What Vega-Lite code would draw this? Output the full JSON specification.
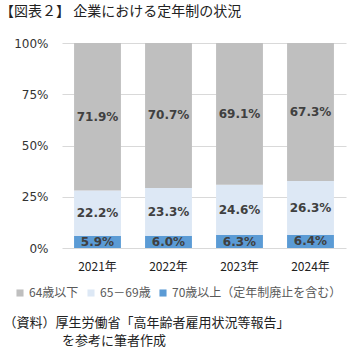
{
  "$schema": "https://vega.github.io/schema/vega-lite/v6.json",
  "autosize": "none",
  "width": 284,
  "height": 205,
  "padding": {"left": 62, "top": 43, "right": 11, "bottom": 109},
  "background": "white",
  "config": {
    "view": {"stroke": null},
    "font": "Noto Sans CJK JP"
  },
  "title": {
    "text": "【図表２】 企業における定年制の状況",
    "anchor": "start",
    "dx": -3,
    "offset": 18,
    "fontSize": 14,
    "fontWeight": "normal",
    "font": "Noto Sans CJK JP",
    "color": "#222222"
  },
  "data": {
    "values": [
      {"year": "2021年", "group": "70歳以上（定年制廃止を含む）", "order": 1, "value": 0.059},
      {"year": "2021年", "group": "65－69歳", "order": 2, "value": 0.222},
      {"year": "2021年", "group": "64歳以下", "order": 3, "value": 0.719},
      {"year": "2022年", "group": "70歳以上（定年制廃止を含む）", "order": 1, "value": 0.060},
      {"year": "2022年", "group": "65－69歳", "order": 2, "value": 0.233},
      {"year": "2022年", "group": "64歳以下", "order": 3, "value": 0.707},
      {"year": "2023年", "group": "70歳以上（定年制廃止を含む）", "order": 1, "value": 0.063},
      {"year": "2023年", "group": "65－69歳", "order": 2, "value": 0.246},
      {"year": "2023年", "group": "64歳以下", "order": 3, "value": 0.691},
      {"year": "2024年", "group": "70歳以上（定年制廃止を含む）", "order": 1, "value": 0.064},
      {"year": "2024年", "group": "65－69歳", "order": 2, "value": 0.263},
      {"year": "2024年", "group": "64歳以下", "order": 3, "value": 0.673}
    ]
  },
  "encoding": {
    "x": {
      "field": "year",
      "type": "nominal",
      "scale": {"paddingInner": 0.34, "paddingOuter": 0.17},
      "axis": {
        "title": ["（資料）厚生労働省「高年齢者雇用状況等報告」", "\u200b\u3000\u3000\u3000\u3000\u2002を参考に筆者作成"],
        "titleAnchor": "start",
        "titleAlign": "left",
        "titleX": -59,
        "titlePadding": 44,
        "titleFontSize": 13,
        "titleFontWeight": "normal",
        "titleColor": "#222222",
        "titleFont": "Noto Sans CJK JP",
        "titleLineHeight": 18,
        "labelAngle": 0,
        "labelFontSize": 12,
        "labelColor": "#222222",
        "labelPadding": 13,
        "ticks": false,
        "domain": false
      }
    }
  },
  "layer": [
    {
      "transform": [
        {"stack": "value", "groupby": ["year"], "sort": [{"field": "order", "order": "ascending"}], "as": ["v0", "v1"]}
      ],
      "mark": {"type": "bar"},
      "encoding": {
        "y": {
          "field": "v0",
          "type": "quantitative",
          "scale": {"domain": [0, 1]},
          "axis": {
            "title": null,
            "values": [0, 0.25, 0.5, 0.75, 1],
            "format": ".0%",
            "labelFont": "DejaVu Sans",
            "labelFontSize": 12,
            "labelColor": "#333333",
            "labelPadding": 14,
            "ticks": false,
            "domain": false,
            "gridColor": "#D9D9D9",
            "gridWidth": 1
          }
        },
        "y2": {"field": "v1"},
        "color": {
          "field": "group",
          "type": "nominal",
          "scale": {
            "domain": ["64歳以下", "65－69歳", "70歳以上（定年制廃止を含む）"],
            "range": ["#BFBFBF", "#DDE8F5", "#5B9BD5"]
          },
          "legend": {
            "title": null,
            "orient": "none",
            "direction": "horizontal",
            "legendX": -48,
            "legendY": 244,
            "symbolType": "square",
            "symbolSize": 50,
            "symbolStrokeWidth": 0,
            "labelFontSize": 12,
            "labelColor": "#595959",
            "labelFont": "Noto Sans CJK JP",
            "labelLimit": 300,
            "columnPadding": 6,
            "labelOffset": 3
          }
        }
      }
    },
    {
      "transform": [
        {"fold": ["value", "value"], "as": ["k", "dup"]},
        {"stack": "dup", "groupby": ["year"], "sort": [{"field": "order", "order": "ascending"}], "as": ["d0", "d1"]},
        {"aggregate": [{"op": "min", "field": "d1", "as": "mid2"}], "groupby": ["year", "group", "value"]}
      ],
      "mark": {"type": "text", "font": "DejaVu Sans", "fontWeight": "bold", "fontSize": 12, "color": "#404040"},
      "encoding": {
        "y": {"field": "mid2", "type": "quantitative", "scale": {"domain": [0, 2]}, "axis": null},
        "text": {"field": "value", "type": "quantitative", "format": ".1%"}
      }
    }
  ],
  "resolve": {"scale": {"y": "independent"}}
}
